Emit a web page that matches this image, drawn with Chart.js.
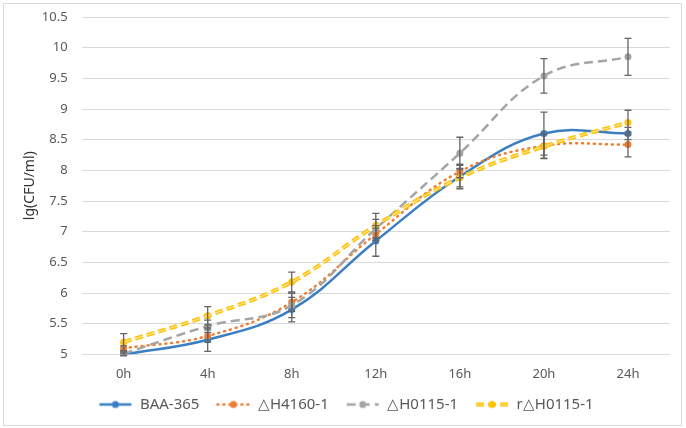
<!DOCTYPE html>
<html>
<head>
<meta charset="utf-8">
<script src="https://cdn.jsdelivr.net/npm/chart.js@4"></script>
<style>
  html, body { margin: 0; padding: 0; background: #fff; }
  #wrap { position: relative; width: 686px; height: 428px; }
  #frame { position: absolute; left: 3px; top: 3px; width: 677px; height: 421px; border: 1px solid #d9d9d9; pointer-events: none; }
</style>
</head>
<body>
<div id="wrap">
  <canvas id="growthChart" width="686" height="428"></canvas>
  <div id="frame"></div>
</div>
<script>
// sampling times
const timeLabels = ['0h', '4h', '8h', '12h', '16h', '20h', '24h'];

// lg(CFU/ml) per strain, with error bar half-lengths
const baa365 = [5.0, 5.24, 5.73, 6.85, 7.9, 8.6, 8.6];
const baa365Err = [0.02, 0.19, 0.2, 0.25, 0.2, 0.35, 0.1];
const h4160 = [5.1, 5.3, 5.85, 6.96, 7.98, 8.4, 8.42];
const h4160Err = [0.04, 0.1, 0.15, 0.1, 0.1, 0.2, 0.2];
const h0115 = [5.01, 5.46, 5.8, 7.05, 8.28, 9.54, 9.85];
const h0115Err = [0.03, 0.1, 0.2, 0.15, 0.26, 0.28, 0.3];
const rh0115 = [5.2, 5.63, 6.18, 7.1, 7.88, 8.39, 8.78];
const rh0115Err = [0.14, 0.15, 0.16, 0.2, 0.15, 0.2, 0.2];

const seriesNames = ['BAA-365', '\u25B3H4160-1', '\u25B3H0115-1', 'r\u25B3H0115-1'];
const yMin = 5, yMax = 10.5, yStep = 0.5;

const FONT = '"Noto Sans", "Liberation Sans", sans-serif';
const TEXT = '#595959';

// little line+dot samples for the legend (blank on the left for spacing)
const GAP = 14;
function legendMarker(color, dash, width, inner) {
    const c = document.createElement('canvas');
    c.width = 34 + GAP; c.height = 12;
    const g = c.getContext('2d');
    g.lineCap = dash.length && dash[0] < 3 ? 'round' : 'butt';
    g.strokeStyle = color;
    g.lineWidth = width;
    g.setLineDash(dash);
    g.beginPath(); g.moveTo(GAP + 1, 6); g.lineTo(GAP + 33, 6); g.stroke();
    if (inner) {
        g.strokeStyle = inner; g.lineWidth = 1.2;
        g.beginPath(); g.moveTo(GAP + 1, 6); g.lineTo(GAP + 33, 6); g.stroke();
    }
    g.setLineDash([]);
    g.fillStyle = color;
    g.beginPath(); g.arc(GAP + 17, 6, 3.5, 0, Math.PI * 2); g.fill();
    return c;
}

const markers = [
    legendMarker('#3a7fc4', [], 2.5),
    legendMarker('#ed7d31', [1, 5], 2.5),
    legendMarker('#a5a5a5', [9, 5], 2.5),
    legendMarker('#ffc000', [8, 4], 4, '#ffe699')
];

const errorBars = {
    id: 'errorBars',
    afterDatasetsDraw(chart) {
        const ctx = chart.ctx;
        const y = chart.scales.y;
        ctx.save();
        ctx.strokeStyle = '#646464';
        ctx.lineWidth = 1.3;
        chart.data.datasets.forEach((ds, i) => {
            if (!ds.errors) return;
            const meta = chart.getDatasetMeta(i);
            meta.data.forEach((pt, j) => {
                const v = ds.data[j], e = ds.errors[j];
                const top = y.getPixelForValue(v + e);
                const bot = y.getPixelForValue(v - e);
                ctx.beginPath();
                ctx.moveTo(pt.x, top); ctx.lineTo(pt.x, bot);
                ctx.moveTo(pt.x - 3.5, top); ctx.lineTo(pt.x + 3.5, top);
                ctx.moveTo(pt.x - 3.5, bot); ctx.lineTo(pt.x + 3.5, bot);
                ctx.stroke();
            });
        });
        ctx.restore();
    }
};

function series(label, data, errors, color, dash, width, order) {
    return {
        label: label,
        data: data,
        errors: errors,
        borderColor: color,
        backgroundColor: color,
        borderWidth: width,
        borderDash: dash,
        borderCapStyle: dash.length && dash[0] < 3 ? 'round' : 'butt',
        pointRadius: 3.5,
        pointHoverRadius: 3.5,
        pointBackgroundColor: color,
        pointBorderColor: color,
        pointBorderWidth: 0,
        tension: 0.4,
        fill: false,
        order: order
    };
}

const ctx = document.getElementById('growthChart');
new Chart(ctx, {
    type: 'line',
    data: {
        labels: timeLabels,
        datasets: [
            series(seriesNames[0], baa365, baa365Err, '#3a7fc4', [], 2.5, 4),
            series(seriesNames[1], h4160, h4160Err, '#ed7d31', [1, 5], 2.5, 3),
            series(seriesNames[2], h0115, h0115Err, '#a5a5a5', [9, 5], 2.5, 2),
            series(seriesNames[3], rh0115, rh0115Err, '#ffc000', [8, 4], 4, 1),
            {
                // light stripe inside the yellow dashes
                label: 'inner',
                data: rh0115,
                borderColor: '#ffe699',
                borderWidth: 1.2,
                borderDash: [8, 4],
                pointRadius: 0,
                tension: 0.4,
                fill: false,
                order: 0
            }
        ]
    },
    options: {
        responsive: false,
        animation: false,
        events: [],
        layout: { padding: { left: 8, right: 16, top: 17, bottom: 6 } },
        scales: {
            x: {
                offset: true,
                grid: { display: false, drawTicks: false },
                border: { display: false },
                ticks: { color: TEXT, font: { family: FONT, size: 13 }, padding: 12 }
            },
            y: {
                min: yMin,
                max: yMax,
                grid: { color: '#d9d9d9', lineWidth: 1, drawTicks: false },
                border: { display: false },
                afterFit: scale => { scale.paddingTop = 0; },
                ticks: {
                    stepSize: yStep,
                    color: TEXT,
                    padding: 14,
                    font: { family: FONT, size: 13 },
                    callback: v => String(v)
                },
                title: {
                    display: true,
                    text: 'lg(CFU/ml)',
                    color: '#333',
                    font: { family: FONT, size: 14 },
                    padding: { top: 14, bottom: -11 }
                }
            }
        },
        plugins: {
            tooltip: { enabled: false },
            legend: {
                position: 'bottom',
                labels: {
                    usePointStyle: true,
                    pointStyleWidth: 34 + GAP,
                    padding: 3,
                    color: TEXT,
                    font: { family: FONT, size: 15 },
                    generateLabels: chart => Chart.defaults.plugins.legend.labels.generateLabels(chart)
                        .filter(l => l.datasetIndex < 4)
                        .sort((a, b) => a.datasetIndex - b.datasetIndex)
                        .map(l => Object.assign(l, { pointStyle: markers[l.datasetIndex] }))
                }
            }
        }
    },
    plugins: [errorBars]
});
</script>
</body>
</html>
